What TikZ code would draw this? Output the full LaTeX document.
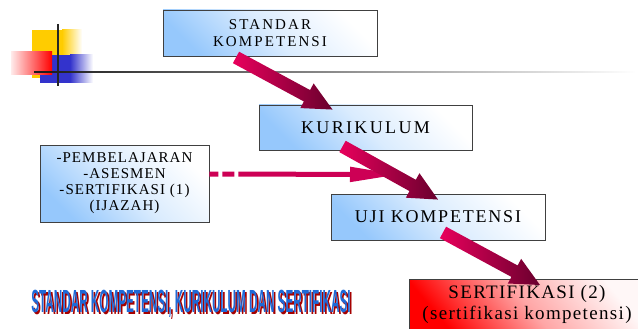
\documentclass[tikz,border=0pt]{standalone}
\usepackage{fontspec}
\setmainfont{Liberation Serif}
\newfontfamily\judulfont{Liberation Sans}
\usetikzlibrary{arrows.meta, calc}

\definecolor{boxblue}{RGB}{150,200,252}
\definecolor{arrowpink}{RGB}{232,0,92}
\definecolor{arrowdark}{RGB}{105,0,45}
\definecolor{dashred}{RGB}{205,0,85}
\definecolor{titleblue}{RGB}{30,105,215}
\definecolor{titleshade}{RGB}{165,0,0}
\definecolor{logoyellow}{RGB}{255,204,0}
\definecolor{logoblue}{RGB}{51,51,204}

% thick shaded arrow from #1 to #2
\newcommand{\fatarrow}[2]{%
  \coordinate (fa-h) at ($(#2)!29pt!(#1)$);
  \shade[left color=arrowpink, right color=arrowdark]
    ($(#1)!6.5pt!90:(#2)$) -- ($(fa-h)!6.5pt!90:(#2)$) -- ($(fa-h)!14pt!90:(#2)$)
    -- (#2) -- ($(fa-h)!14pt!-90:(#2)$) -- ($(fa-h)!6.5pt!-90:(#2)$)
    -- ($(#1)!6.5pt!-90:(#2)$) -- cycle;}

% title text with its shadow
\newcommand{\judultext}{STANDAR KOMPETENSI, KURIKULUM DAN SERTIFIKASI}

\begin{document}
\begin{tikzpicture}[
    x=1pt, y=-1pt,
    bluebox/.style={draw=black!75, line width=0.9pt, bottom color=boxblue, top color=white,
                    middle color=boxblue!35, shading angle=-45, align=center, inner sep=0pt, text=black},
    redbox/.style={draw=black!75, line width=0.9pt, bottom color=red, top color=red!3,
                   middle color=red!35, shading angle=-50, align=center, inner xsep=0pt, inner ysep=6pt, text=black},
    dashline/.style={line width=5pt, draw=dashred, dash pattern=on 9pt off 4pt on 12pt off 4pt on 400pt,
                     -{Triangle[length=50pt,width=14pt]}},
    ]

    \useasboundingbox (0,0) rectangle (638,329);
    \clip (0,0) rectangle (638,329);

    % logo
    \fill[logoyellow] (32,30) rectangle (62,78);
    \shade[left color=logoyellow, right color=white] (62,30) rectangle (82,78);
    \fill[logoblue] (40,55) rectangle (70,83);
    \shade[left color=logoblue, right color=white] (70,55) rectangle (93,83);
    \shade[left color=red!8, right color=red] (11,52) rectangle (52,75);
    \draw[line width=1.3pt, black!85] (58,24) -- (58,86);
    \shade[left color=black!90, middle color=black!50, right color=white] (34,71.2) rectangle (636,72.8);

    \node[bluebox, minimum width=214pt, minimum height=46pt,
          font=\fontsize{15}{17}\selectfont\addfontfeature{LetterSpace=14}]
          (standar) at (270,33) {STANDAR\\KOMPETENSI};
    \node[bluebox, minimum width=213pt, minimum height=45pt,
          font=\fontsize{18}{20}\selectfont\addfontfeature{LetterSpace=13}]
          (kurikulum) at (365.5,127.5) {KURIKULUM};
    \node[bluebox, minimum width=169pt, minimum height=77pt,
          font=\fontsize{15}{16}\selectfont\addfontfeature{LetterSpace=7}]
          (lainnya) at (124.5,183.5) {-PEMBELAJARAN\\-ASESMEN\\-SERTIFIKASI (1)\\(IJAZAH)};
    \node[bluebox, minimum width=214pt, minimum height=46pt,
          font=\fontsize{18}{20}\selectfont\addfontfeature{LetterSpace=10}]
          (uji) at (438,217) {UJI KOMPETENSI};
    \node[redbox, anchor=north, minimum width=236pt,
          font=\fontsize{19}{21}\selectfont\addfontfeature{LetterSpace=7}]
          (sertifikasi) at (527,279) {SERTIFIKASI (2)\\(sertifikasi kompetensi)};

    \coordinate (lnd) at ($(uji.north)+(-38,-19)$);
    \draw[dashline] ($(lainnya.east)+(0,-9.5)$) -- (lnd);

    \coordinate (a1s) at ($(standar.south)+(-34,1)$);
    \coordinate (a1e) at ($(kurikulum.north)+(-33,5)$);
    \coordinate (a2s) at ($(kurikulum.south)+(-23,-4)$);
    \coordinate (a2e) at ($(uji.north)+(0,6)$);
    \coordinate (a3s) at ($(uji.south)+(5,-8)$);
    \coordinate (a3e) at ($(sertifikasi.north)+(13,6)$);
    \fatarrow{a1s}{a1e}
    \fatarrow{a2s}{a2e}
    \fatarrow{a3s}{a3e}

    \node[font=\judulfont\bfseries\fontsize{32}{32}\selectfont]
          (judul) at (191,304.5) {\scalebox{0.366}[1]{%
            \rlap{\hspace{5pt}\raisebox{-2pt}{\color{titleshade}\judultext}}%
            \color{titleblue}\judultext}};

\end{tikzpicture}
\end{document}
